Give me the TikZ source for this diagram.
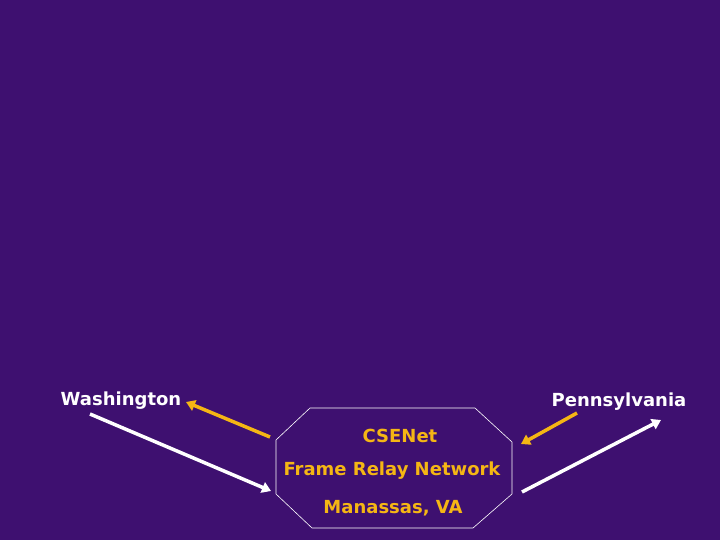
\documentclass[tikz,border=0pt]{standalone}
\usepackage{fontspec}
\setmainfont{DejaVu Sans}
\usetikzlibrary{arrows.meta}
\definecolor{bgpurple}{RGB}{62,16,112}
\definecolor{gold}{RGB}{245,182,20}
\tikzset{
  lbl/.style={font=\bfseries\fontsize{18}{21}\selectfont, inner sep=0pt},
  place/.style={lbl, text=white},
  net/.style={lbl, text=gold},
  arr/.style={line width=3.5pt, -{Triangle[length=9pt,width=11pt]}},
  warr/.style={arr, draw=white},
  garr/.style={arr, draw=gold},
}
\begin{document}
\begin{tikzpicture}[x=1pt,y=-1pt]
\fill[bgpurple] (0,0) rectangle (720,540);
\useasboundingbox (0,0) rectangle (720,540);
% octagon
\draw[white, line width=0.6pt] (310,408) -- (475,408) -- (512,442) -- (512,494) -- (473,528) -- (312,528) -- (276,494) -- (276,440) -- cycle;
\node[place] (wa) at (121,401) {Washington};
\node[place] (pa) at (619,402) {Pennsylvania};
\node[net] (cse) at (400,436) {CSENet};
\node[net] (frn) at (392,471) {Frame Relay Network};
\node[net] (man) at (393,508) {Manassas, VA};
\coordinate (y1s) at (270,437);
\coordinate (y1e) at (186,402);
\coordinate (w1s) at (90,414);
\coordinate (w1e) at (271,491);
\coordinate (y2s) at (577,413);
\coordinate (y2e) at (521,444);
\coordinate (w2s) at (522,492);
\coordinate (w2e) at (661,420);
\draw[garr] (y1s) -- (y1e);
\draw[warr] (w1s) -- (w1e);
\draw[garr] (y2s) -- (y2e);
\draw[warr] (w2s) -- (w2e);
\end{tikzpicture}
\end{document}
